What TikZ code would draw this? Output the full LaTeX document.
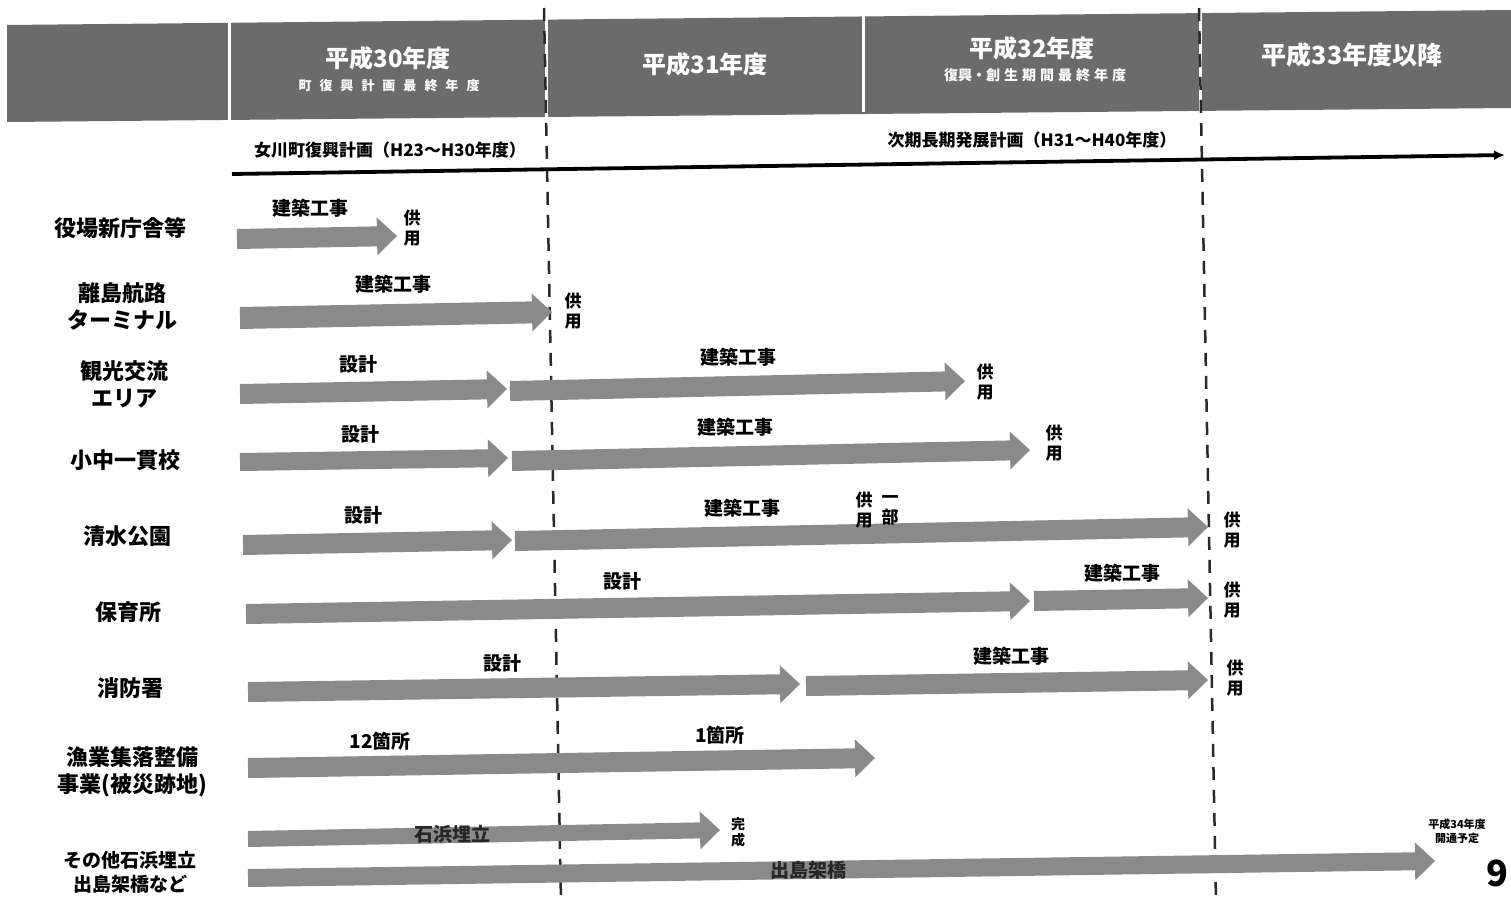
\documentclass[tikz,border=0pt]{standalone}
\usepackage{fontspec}
\setmainfont{Noto Sans CJK JP}
\usetikzlibrary{calc,arrows.meta}
\definecolor{hdrgray}{HTML}{6B6B6B}
\definecolor{argray}{HTML}{8A8A8A}
\definecolor{dashgray}{HTML}{2A2A2A}
\tikzset{
 rowlab/.style={font=\fontsize{22}{27}\selectfont\bfseries, align=center, inner sep=0pt},
 arlab/.style={font=\fontsize{19}{22}\selectfont\bfseries, inner sep=0pt},
 vlab/.style={font=\fontsize{17}{20}\selectfont\bfseries, align=center, inner sep=0pt},
 hdrtitle/.style={font=\fontsize{24}{28}\selectfont\bfseries, text=white, inner sep=0pt},
 hdrsub/.style={font=\fontsize{13}{15}\selectfont\bfseries, text=white, inner sep=0pt},
 barfill/.style={fill=argray},
 divider/.style={draw=dashgray, line width=2.5pt, dash pattern=on 13pt off 10pt},
 planlab/.style={font=\fontsize{17}{20}\selectfont\bfseries, inner sep=0pt},
 sep/.style={draw=white, line width=3pt},
}
\newcommand\blockarrow[3][10]{%
 \coordinate (hb) at ($(#3)!20pt!(#2)$);
 \fill[barfill] ($(#2)!#1pt!90:(#3)$) -- ($(hb)!#1pt!90:(#3)$) -- ($(hb)!19pt!90:(#3)$) -- (#3) -- ($(hb)!19pt!-90:(#3)$) -- ($(hb)!#1pt!-90:(#3)$) -- ($(#2)!#1pt!-90:(#3)$) -- cycle;
}
\begin{document}
\begin{tikzpicture}[x=1pt,y=-1pt]
\useasboundingbox (0,0) rectangle (1511,905);
% header
\coordinate (h1) at (7,25);
\coordinate (h2) at (1511,10);
\coordinate (h3) at (1511,108);
\coordinate (h4) at (7,122);
\fill[hdrgray] (h1) -- (h2) -- (h3) -- (h4) -- cycle;
\coordinate (s1t) at (229,18); \coordinate (s1b) at (229,124);
\coordinate (s2t) at (863,12); \coordinate (s2b) at (863,112);
\coordinate (s3t) at (546,14); \coordinate (s3b) at (546,118);
\coordinate (s4t) at (1200,8); \coordinate (s4b) at (1200,112);
\draw[sep] (s1t) -- (s1b);
\draw[sep] (s2t) -- (s2b);
\draw[sep] (s3t) -- (s3b);
\draw[sep] (s4t) -- (s4b);
\node[hdrtitle] (y30) at (388,58) {平成30年度};
\node[hdrsub] (y30s) at (389,86) {町\hspace{8pt}復\hspace{8pt}興\hspace{8pt}計\hspace{8pt}画\hspace{8pt}最\hspace{8pt}終\hspace{8pt}年\hspace{8pt}度};
\node[hdrtitle] (y31) at (705,64) {平成31年度};
\node[hdrtitle] (y32) at (1032,48) {平成32年度};
\node[hdrsub, font=\fontsize{14}{16}\selectfont\bfseries] (y32s) at (1035,75) {復興・創\hspace{4pt}生\hspace{4pt}期\hspace{4pt}間\hspace{4pt}最\hspace{4pt}終\hspace{4pt}年\hspace{4pt}度};
\node[hdrtitle, font=\fontsize{25}{28}\selectfont\bfseries] (y33) at (1352,55) {平成33年度以降};
% dashed dividers
\coordinate (d1t) at (544,8); \coordinate (d1b) at (561,902);
\coordinate (d2t) at (1199,8); \coordinate (d2b) at (1216,902);
\draw[divider] (d1t) -- (d1b);
\draw[divider] (d2t) -- (d2b);
% timeline
\coordinate (tl0) at (232,174);
\coordinate (tl1) at (1505,155);
\draw[line width=3.8pt, -{Latex[length=11pt,width=10pt]}] (tl0) -- (tl1);
\node[planlab] (p1) at (390,150) {女川町復興計画（H23～H30年度）};
\node[planlab] (p2) at (1032,140) {次期長期発展計画（H31～H40年度）};
% row labels
\node[rowlab] (r1) at (120,228) {役場新庁舎等};
\node[rowlab] (r2) at (122,306) {離島航路\\ターミナル};
\node[rowlab] (r3) at (124,384) {観光交流\\エリア};
\node[rowlab] (r4) at (125,460) {小中一貫校};
\node[rowlab] (r5) at (127,536) {清水公園};
\node[rowlab] (r6) at (128,612) {保育所};
\node[rowlab] (r7) at (130,688) {消防署};
\node[rowlab] (r8) at (132,772) {漁業集落整備\\事業(被災跡地)};
\node[rowlab, font=\fontsize{19}{24}\selectfont\bfseries] (r9) at (130,872) {その他石浜埋立\\出島架橋など};
% arrows
\coordinate (a1s) at (237,239); \coordinate (a1e) at (397,236);
\blockarrow{a1s}{a1e}
\coordinate (a2s) at (240,318); \coordinate (a2e) at (552,312);
\blockarrow[11]{a2s}{a2e}
\coordinate (a3s) at (240,394); \coordinate (a3e) at (507,389);
\blockarrow{a3s}{a3e}
\coordinate (a3bs) at (510,391); \coordinate (a3be) at (965,381);
\blockarrow{a3bs}{a3be}
\coordinate (a4s) at (240,462); \coordinate (a4e) at (508,458);
\blockarrow[9]{a4s}{a4e}
\coordinate (a4bs) at (512,461); \coordinate (a4be) at (1030,450);
\blockarrow{a4bs}{a4be}
\coordinate (a5s) at (243,545); \coordinate (a5e) at (512,540);
\blockarrow{a5s}{a5e}
\coordinate (a5bs) at (515,541); \coordinate (a5be) at (1208,527);
\blockarrow{a5bs}{a5be}
\coordinate (a6s) at (246,614); \coordinate (a6e) at (1030,601);
\blockarrow{a6s}{a6e}
\coordinate (a6bs) at (1034,601); \coordinate (a6be) at (1208,598);
\blockarrow{a6bs}{a6be}
\coordinate (a7s) at (248,692); \coordinate (a7e) at (800,684);
\blockarrow{a7s}{a7e}
\coordinate (a7bs) at (806,686); \coordinate (a7be) at (1208,680);
\blockarrow{a7bs}{a7be}
\coordinate (a8s) at (248,768); \coordinate (a8e) at (875,758);
\blockarrow{a8s}{a8e}
\coordinate (a9s) at (248,839); \coordinate (a9e) at (720,830);
\blockarrow[8]{a9s}{a9e}
\coordinate (a10s) at (248,878); \coordinate (a10e) at (1435,861);
\blockarrow[9]{a10s}{a10e}
% arrow labels
\node[arlab] (l1) at (310,208) {建築工事};
\node[vlab] (u1) at (412,228) {供\\用};
\node[arlab] (l2) at (393,284) {建築工事};
\node[vlab] (u2) at (573,311) {供\\用};
\node[arlab] (l3a) at (358,364) {設計};
\node[arlab] (l3b) at (738,357) {建築工事};
\node[vlab] (u3) at (985,382) {供\\用};
\node[arlab] (l4a) at (360,434) {設計};
\node[arlab] (l4b) at (735,427) {建築工事};
\node[vlab] (u4) at (1054,443) {供\\用};
\node[arlab] (l5a) at (363,515) {設計};
\node[arlab] (l5b) at (742,508) {建築工事};
\node[vlab] (u5p) at (864,510) {供\\用};
\node[vlab] (u5q) at (890,510) {一\\部};
\node[vlab] (u5) at (1232,530) {供\\用};
\node[arlab] (l6a) at (622,581) {設計};
\node[arlab] (l6b) at (1122,573) {建築工事};
\node[vlab] (u6) at (1232,600) {供\\用};
\node[arlab] (l7a) at (502,663) {設計};
\node[arlab] (l7b) at (1011,656) {建築工事};
\node[vlab] (u7) at (1235,678) {供\\用};
\node[arlab] (l8a) at (380,741) {12箇所};
\node[arlab] (l8b) at (720,735) {1箇所};
\node[arlab, text=black!85] (l9) at (452,834) {石浜埋立};
\node[vlab, font=\fontsize{14}{16}\selectfont\bfseries] (u9) at (738,832) {完\\成};
\node[arlab, text=black!85] (l10) at (808,870) {出島架橋};
\node[font=\fontsize{11}{14}\selectfont\bfseries, align=center, inner sep=0pt] (u10) at (1457,831) {平成34年度\\開通予定};
\node[font=\fontsize{36}{40}\selectfont\bfseries, inner sep=0pt] (pg) at (1497,873) {9};
\end{tikzpicture}
\end{document}
